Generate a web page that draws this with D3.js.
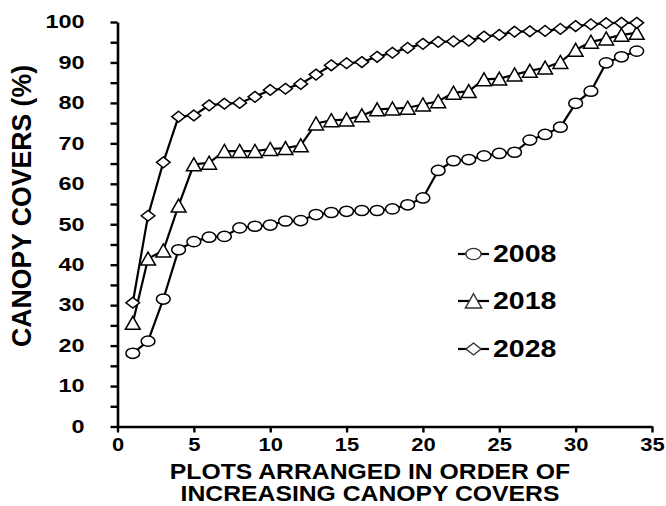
<!DOCTYPE html>
<html>
<head>
<meta charset="utf-8">
<script src="https://cdn.jsdelivr.net/npm/d3@7/dist/d3.min.js"></script>
<style>
  html, body { margin: 0; padding: 0; background: #fff; }
  svg { display: block; font-family: "Liberation Sans", Arial, sans-serif; }
</style>
</head>
<body>
<svg id="chart" width="666" height="506"></svg>
<script>
// ---- data ----
const plots = [1,2,3,4,5,6,7,8,9,10,11,12,13,14,15,16,17,18,19,20,21,22,23,24,25,26,27,28,29,30,31,32,33,34];
const cover2008 = [18.1, 21.1, 31.5, 43.7, 45.7, 46.8, 47.0, 49.1, 49.5, 49.8, 50.8, 50.9, 52.4, 52.9, 53.2, 53.4, 53.4, 53.8, 54.8, 56.5, 63.3, 65.7, 66.0, 66.9, 67.5, 67.8, 70.8, 72.2, 74.0, 79.9, 82.9, 89.9, 91.4, 92.8];
const cover2018 = [25.6, 41.5, 43.5, 54.6, 64.8, 65.2, 68.1, 68.1, 68.1, 68.6, 68.8, 69.5, 74.9, 75.7, 75.9, 76.9, 78.4, 78.6, 78.8, 79.6, 80.4, 82.5, 82.9, 85.8, 86.0, 87.0, 87.9, 88.7, 90.1, 93.1, 95.1, 95.9, 96.8, 97.3];
const cover2028 = [30.6, 52.1, 65.3, 76.6, 76.9, 79.4, 79.8, 80.0, 81.5, 83.2, 83.5, 84.7, 87.0, 89.3, 89.8, 90.1, 91.4, 92.4, 93.6, 94.6, 95.1, 95.2, 95.4, 96.4, 96.8, 97.6, 97.7, 97.8, 98.3, 99.0, 99.4, 99.7, 99.8, 99.8];
const seriesNames = ["2008", "2018", "2028"];
const seriesMarkers = ["circle", "triangle", "diamond"];
const xTicks = [0, 5, 10, 15, 20, 25, 30, 35];
const yTicks = [0,5,10,15,20,25,30,35,40,45,50,55,60,65,70,75,80,85,90,95,100];
const yTitle = "CANOPY COVERS (%)";
const xTitleLines = ["PLOTS ARRANGED IN ORDER OF", "INCREASING CANOPY COVERS"];

const seriesValues = [cover2008, cover2018, cover2028];

// ---- layout ----
const svg = d3.select("#chart");
svg.append("rect").attr("width", 666).attr("height", 506).attr("fill", "#fff");

const x = d3.scaleLinear().domain([0, 35]).range([117.5, 652]);
const y = d3.scaleLinear().domain([0, 100]).range([426.5, 22]);

function stretch(sel, k) {
  sel.each(function () {
    const w = this.getComputedTextLength();
    d3.select(this).attr("textLength", w * k).attr("lengthAdjust", "spacingAndGlyphs");
  });
}

// markers
function markerPath(type) {
  if (type === "circle") {
    const rx = 6.9, ry = 5.1;
    return `M${-rx},0 A${rx},${ry} 0 1,0 ${rx},0 A${rx},${ry} 0 1,0 ${-rx},0 Z`;
  }
  if (type === "triangle") {
    return "M0,-6.6 L7.4,6.4 L-7.4,6.4 Z";
  }
  return "M0,-5.4 L6.8,0 L0,5.4 L-6.8,0 Z";
}

// series
const line = d3.line().x((d, i) => x(plots[i])).y(d => y(d));
seriesValues.forEach((vals, si) => {
  const g = svg.append("g");
  g.append("path")
    .attr("d", line(vals))
    .attr("fill", "none")
    .attr("stroke", "#000")
    .attr("stroke-width", 2.2);
  g.selectAll("path.m").data(vals).join("path")
    .attr("class", "m")
    .attr("d", markerPath(seriesMarkers[si]))
    .attr("transform", (d, i) => `translate(${x(plots[i])},${y(d)})`)
    .attr("fill", "#fff")
    .attr("stroke", "#000")
    .attr("stroke-width", 1.5);
});

// axes
const xAxis = svg.append("g")
  .attr("transform", `translate(0,${y(0)})`)
  .call(d3.axisBottom(x).tickValues(xTicks).tickSize(6).tickSizeOuter(0).tickPadding(6).tickFormat(d3.format("d")));
const yAxis = svg.append("g")
  .attr("transform", `translate(${x(0)},0)`)
  .call(d3.axisLeft(y).tickValues(yTicks).tickSize(7).tickSizeOuter(0).tickPadding(26)
    .tickFormat(d => d % 10 === 0 ? String(d) : ""));

[xAxis, yAxis].forEach(a => {
  a.select(".domain").attr("stroke", "#000").attr("stroke-width", 2.6);
  a.selectAll(".tick line").attr("stroke", "#000").attr("stroke-width", 2.4);
  a.selectAll(".tick text")
    .attr("fill", "#000")
    .style("font-family", "'Liberation Sans', Arial, sans-serif")
    .style("font-size", "18px")
    .style("font-weight", "bold");
});
stretch(xAxis.selectAll(".tick text"), 1.22);
stretch(yAxis.selectAll(".tick text").filter(d => d % 10 === 0), 1.3);

// axis titles
svg.append("text")
  .attr("transform", "translate(31,206) scale(1.2,1) rotate(-90)")
  .attr("text-anchor", "middle")
  .style("font-size", "23px")
  .style("font-weight", "bold")
  .attr("textLength", 282)
  .attr("lengthAdjust", "spacingAndGlyphs")
  .text(yTitle);

const xt = svg.append("g");
xTitleLines.forEach((t, i) => {
  xt.append("text")
    .attr("x", 370)
    .attr("y", 479 + i * 22)
    .attr("text-anchor", "middle")
    .style("font-size", "22px")
    .style("font-weight", "bold")
    .text(t);
});
stretch(xt.selectAll("text"), 1.124);

// legend
const legendY = [254, 301, 349];
const lg = svg.append("g");
seriesNames.forEach((name, i) => {
  const cy = legendY[i];
  lg.append("line")
    .attr("x1", 458).attr("x2", 489).attr("y1", cy).attr("y2", cy)
    .attr("stroke", "#000").attr("stroke-width", 2.2);
  lg.append("path")
    .attr("d", markerPath(seriesMarkers[i]))
    .attr("transform", `translate(473.5,${cy}) scale(1.1)`)
    .attr("fill", "#fff").attr("stroke", "#333").attr("stroke-width", 1.3);
  lg.append("text")
    .attr("x", 493).attr("y", cy + 8)
    .style("font-size", "23px").style("font-weight", "bold")
    .text(name);
});
stretch(lg.selectAll("text"), 1.24);
</script>
</body>
</html>
